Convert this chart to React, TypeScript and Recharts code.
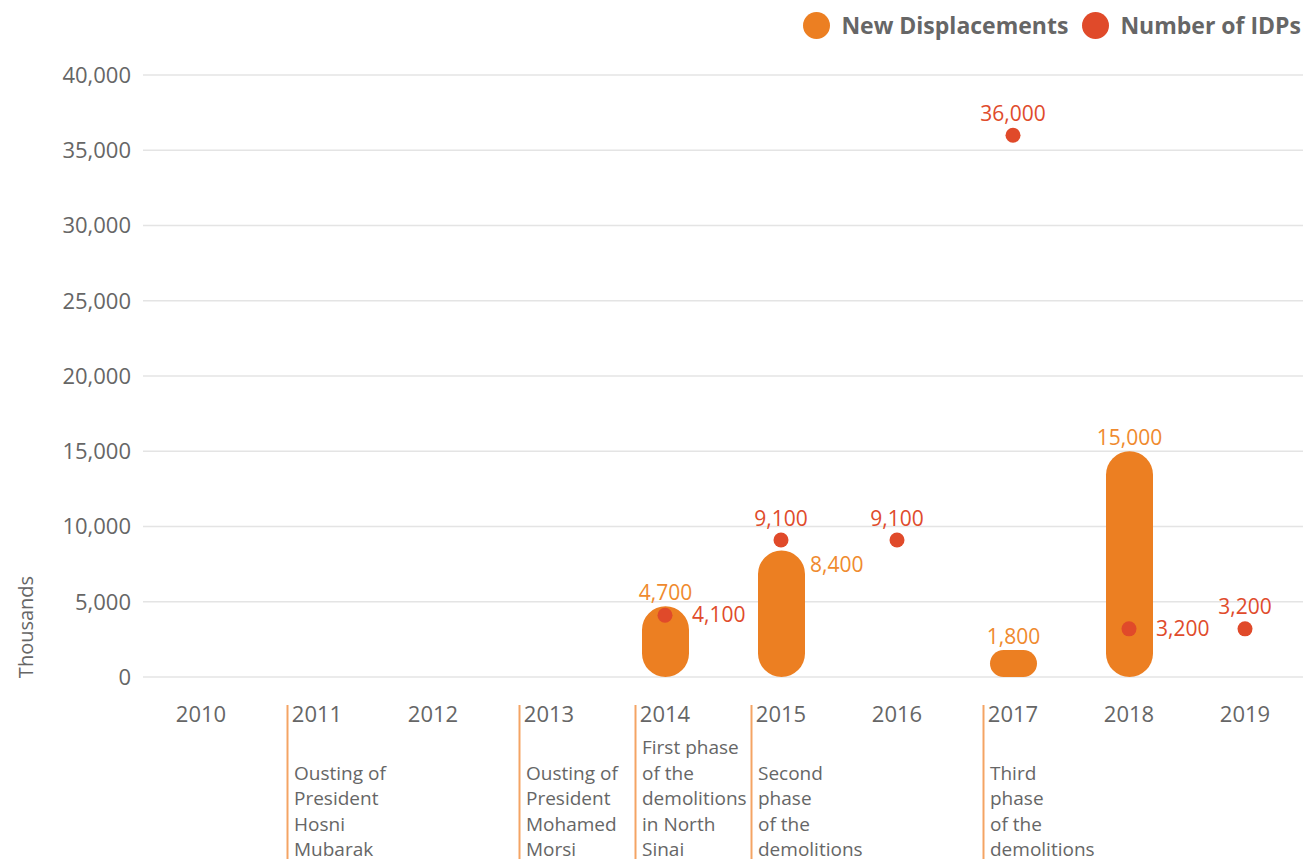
import React from 'react';
import { ComposedChart, Bar, Line, XAxis, YAxis, CartesianGrid, LabelList, Legend } from 'recharts';

const years = ['2010', '2011', '2012', '2013', '2014', '2015', '2016', '2017', '2018', '2019'];
const newDisplacements: (number | null)[] = [null, null, null, null, 4700, 8400, null, 1800, 15000, null];
const numberOfIDPs: (number | null)[] = [null, null, null, null, 4100, 9100, 9100, 36000, 3200, 3200];
const yTicks = [0, 5000, 10000, 15000, 20000, 25000, 30000, 35000, 40000];
const newLabelSide = ['top', 'top', 'top', 'top', 'top', 'right', 'top', 'top', 'top', 'top'];
const idpLabelSide = ['top', 'top', 'top', 'top', 'right', 'top', 'top', 'top', 'right', 'top'];
const eventNotes: Record<string, string[]> = {
  '2011': ['Ousting of', 'President', 'Hosni', 'Mubarak'],
  '2013': ['Ousting of', 'President', 'Mohamed', 'Morsi'],
  '2014': ['First phase', 'of the', 'demolitions', 'in North', 'Sinai'],
  '2015': ['Second', 'phase', 'of the', 'demolitions'],
  '2017': ['Third', 'phase', 'of the', 'demolitions'],
};

const ORANGE = '#EC7F22';
const RED = '#E04A2A';
const ORANGE_TEXT = '#EF8A2E';
const RED_TEXT = '#E04B2B';
const GREY = '#666666';
const FONT = '"Open Sans", sans-serif';

const data = years.map((year, i) => ({
  year,
  newDisp: newDisplacements[i],
  idps: numberOfIDPs[i],
}));

const fmt = (v: number) => v.toLocaleString('en-US');

const XTick = (props: any) => {
  const { x, y, payload } = props;
  const notes = eventNotes[payload.value];
  return (
    <g>
      <text x={x} y={y + 45} textAnchor="middle" fill={GREY} fontSize={22} fontFamily={FONT}>
        {payload.value}
      </text>
      {notes && (
        <>
          <line x1={x - 29.5} x2={x - 29.5} y1={y + 28} y2={y + 190} stroke="#F4A464" strokeWidth={2} />
          {notes.map((t, k) => (
            <text
              key={k}
              x={x - 23}
              y={y + 179 - (notes.length - 1 - k) * 25.5}
              fill={GREY}
              fontSize={19}
              fontFamily={FONT}
            >
              {t}
            </text>
          ))}
        </>
      )}
    </g>
  );
};

const BarLabel = (props: any) => {
  const { x, y, width, value } = props;
  if (value == null) return null;
  const i = newDisplacements.indexOf(Number(value));
  const side = newLabelSide[i];
  if (side === 'right') {
    return (
      <text x={x + width + 5} y={y + 21} fill={ORANGE_TEXT} fontSize={21} fontFamily={FONT}>
        {fmt(value)}
      </text>
    );
  }
  return (
    <text x={x + width / 2} y={y - 6} textAnchor="middle" fill={ORANGE_TEXT} fontSize={21} fontFamily={FONT}>
      {fmt(value)}
    </text>
  );
};

const DotLabel = (props: any) => {
  const { x, y, value, index } = props;
  if (value == null) return null;
  const side = idpLabelSide[index];
  if (side === 'right') {
    return (
      <text x={x + 27} y={y + 7} fill={RED_TEXT} fontSize={21} fontFamily={FONT}>
        {fmt(value)}
      </text>
    );
  }
  return (
    <text x={x} y={y - 14.5} textAnchor="middle" fill={RED_TEXT} fontSize={21} fontFamily={FONT}>
      {fmt(value)}
    </text>
  );
};

const LegendContent = () => (
  <div style={{ display: 'flex', alignItems: 'center', fontFamily: FONT, fontWeight: 700, fontSize: 23, color: GREY }}>
    <span style={{ display: 'inline-block', width: 27, height: 27, borderRadius: '50%', background: ORANGE, marginRight: 11 }} />
    <span style={{ marginRight: 14 }}>New Displacements</span>
    <span style={{ display: 'inline-block', width: 27, height: 27, borderRadius: '50%', background: RED, marginRight: 11 }} />
    <span>Number of IDPs</span>
  </div>
);

const YLabel = () => (
  <text x={33} y={627} transform="rotate(-90, 33, 627)" textAnchor="middle" fill={GREY} fontSize={20} fontFamily={FONT}>
    Thousands
  </text>
);

export default function App() {
  return (
    <div style={{ position: 'absolute', left: 0, top: 0, width: 1303, height: 859, fontFamily: FONT, background: '#fff', overflow: 'hidden' }}>
      <ComposedChart width={1303} height={859} data={data} margin={{ top: 75, right: 0, bottom: 0, left: 0 }}>
        <CartesianGrid vertical={false} stroke="#e4e4e4" strokeWidth={1.5} />
        <XAxis
          dataKey="year"
          type="category"
          axisLine={false}
          tickLine={false}
          tickSize={0}
          tickMargin={0}
          height={182}
          interval={0}
          tick={<XTick />}
        />
        <YAxis
          width={143}
          domain={[0, 40000]}
          ticks={yTicks}
          axisLine={false}
          tickLine={false}
          tickSize={0}
          tickMargin={12}
          tickFormatter={fmt}
          tick={{ fill: GREY, fontSize: 22, fontFamily: FONT }}
          label={{ content: <YLabel /> }}
        />
        <Legend
          layout="vertical"
          align="center"
          verticalAlign="middle"
          content={<LegendContent />}
          wrapperStyle={{ top: 9, right: 2, left: 'auto', bottom: 'auto', width: 'auto' }}
        />
        <Bar dataKey="newDisp" name="New Displacements" fill={ORANGE} barSize={47} radius={[24, 24, 24, 24]} isAnimationActive={false}>
          <LabelList dataKey="newDisp" content={<BarLabel />} />
        </Bar>
        <Line
          dataKey="idps"
          name="Number of IDPs"
          stroke="none"
          dot={{ r: 7.5, fill: RED, stroke: 'none' }}
          activeDot={false}
          isAnimationActive={false}
        >
          <LabelList dataKey="idps" content={<DotLabel />} />
        </Line>
      </ComposedChart>
    </div>
  );
}
